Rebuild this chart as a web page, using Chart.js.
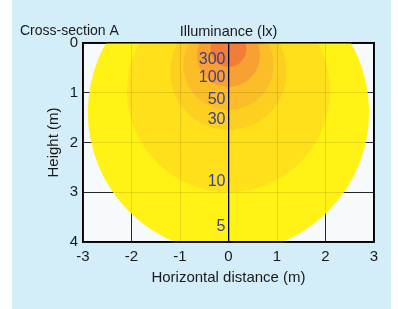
<!DOCTYPE html>
<html>
<head>
<meta charset="utf-8">
<script src="https://cdn.jsdelivr.net/npm/chart.js@4"></script>
<style>
  body { margin: 0; background: #fff; }
  #wrap { position: relative; width: 398px; height: 309px; }
  #panel { position: absolute; left: 12px; top: 0; width: 379px; height: 309px; background: #d3edf9; }
  #isolux { position: absolute; left: 0; top: 0; }
</style>
</head>
<body>
<div id="wrap">
  <div id="panel"></div>
  <canvas id="isolux" width="398" height="309"></canvas>
</div>
<script>
// isolux curves, cross-section A
const luxLevels = [5, 10, 30, 50, 100, 300];
const centerDepth = [1.39, 0.96, 0.58, 0.44, 0.25, 0.12]; // m below the lamp
const radiusM = [2.9, 2.09, 1.2, 0.93, 0.65, 0.37];       // m
const labelDepth = [3.69, 2.79, 1.54, 1.14, 0.70, 0.33];
const fills = ['#fff214', '#ffe01a', '#fdcf20', '#fbbe28', '#f8a132', '#f27d38'];
const xTicks = [-3, -2, -1, 0, 1, 2, 3];
const yTicks = [0, 1, 2, 3, 4];

Chart.defaults.font.family = "'Liberation Sans', Arial, sans-serif";
Chart.defaults.color = '#1a1a1a';

const extras = {
  id: 'extras',
  beforeDraw(chart) {
    const a = chart.chartArea, ctx = chart.ctx;
    ctx.save();
    ctx.fillStyle = '#f6fafc';
    ctx.fillRect(a.left, a.top, a.right - a.left, a.bottom - a.top);
    ctx.restore();
  },
  afterDraw(chart) {
    const ctx = chart.ctx, x = chart.scales.x, y = chart.scales.y;
    ctx.save();
    ctx.font = "16px 'Liberation Sans', Arial, sans-serif";
    ctx.fillStyle = '#3d3f8f';
    ctx.textAlign = 'right';
    ctx.textBaseline = 'middle';
    luxLevels.forEach(function(lux, i) {
      ctx.fillText(String(lux), x.getPixelForValue(0) - 3, y.getPixelForValue(labelDepth[i]));
    });
    ctx.font = "14px 'Liberation Sans', Arial, sans-serif";
    ctx.fillStyle = '#1a1a1a';
    ctx.textAlign = 'left';
    ctx.fillText('Cross-section A', 20, 31.5);
    ctx.restore();
  }
};

const overlayGrid = function(ctx) {
  return ctx.tick && ctx.tick.value === 0 ? '#000' : 'rgba(0,0,0,0.1)';
};

function circles(xs) {
  return luxLevels.map(function(lux, i) {
    return {x: 0, y: centerDepth[i], r: xs ? xs.getPixelForValue(radiusM[i]) - xs.getPixelForValue(0) : 0};
  });
}

const chart = new Chart(document.getElementById('isolux'), {
  type: 'bubble',
  data: {
    datasets: [{
      data: circles(null),
      backgroundColor: fills,
      borderWidth: 0,
      clip: 0
    }]
  },
  options: {
    responsive: false,
    animation: false,
    events: [],
    layout: {padding: 0, autoPadding: false},
    plugins: {legend: {display: false}, tooltip: {enabled: false}},
    scales: {
      x: {
        type: 'linear', min: -3, max: 3, position: 'bottom',
        afterBuildTicks: function(s) { s.ticks = xTicks.map(function(v) { return {value: v}; }); },
        afterFit: function(s) { s.height = 67; },
        grid: {color: '#2a2a2a', drawTicks: false},
        border: {color: '#000', width: 1.5, z: 2},
        ticks: {font: {size: 15}, padding: 6},
        title: {display: true, text: 'Horizontal distance (m)', font: {size: 15}, padding: {top: 0, bottom: 22}}
      },
      y: {
        type: 'linear', min: 0, max: 4, reverse: true, position: 'left',
        afterBuildTicks: function(s) { s.ticks = yTicks.map(function(v) { return {value: v}; }); },
        afterFit: function(s) { s.width = 83; },
        grid: {color: '#2a2a2a', drawTicks: false},
        border: {color: '#000', width: 1.5, z: 2},
        ticks: {font: {size: 15}, padding: 5},
        title: {display: true, text: 'Height (m)', font: {size: 15}, padding: {top: 45, bottom: 0}}
      },
      // same ranges again, drawn above the circles: faint grid + black centre line
      xTop: {
        type: 'linear', min: -3, max: 3, position: 'top',
        afterBuildTicks: function(s) { s.ticks = xTicks.map(function(v) { return {value: v}; }); },
        afterFit: function(s) { s.height = 43; },
        grid: {z: 1, color: overlayGrid, lineWidth: function(ctx) { return ctx.tick && ctx.tick.value === 0 ? 1.3 : 1; }, drawTicks: false},
        border: {color: '#000', width: 1.5, z: 2},
        ticks: {display: false},
        title: {display: true, text: 'Illuminance (lx)', font: {size: 14.5}, padding: {top: 23, bottom: 0}}
      },
      yRight: {
        type: 'linear', min: 0, max: 4, reverse: true, position: 'right',
        afterBuildTicks: function(s) { s.ticks = yTicks.map(function(v) { return {value: v}; }); },
        afterFit: function(s) { s.width = 24; },
        grid: {z: 1, color: 'rgba(0,0,0,0.1)', drawTicks: false},
        border: {color: '#000', width: 1.5, z: 2},
        ticks: {display: false}
      }
    }
  },
  plugins: [extras]
});

// radii are given in metres; turn them into pixels with the laid-out x scale
chart.data.datasets[0].data = circles(chart.scales.x);
chart.update('none');
</script>
</body>
</html>
